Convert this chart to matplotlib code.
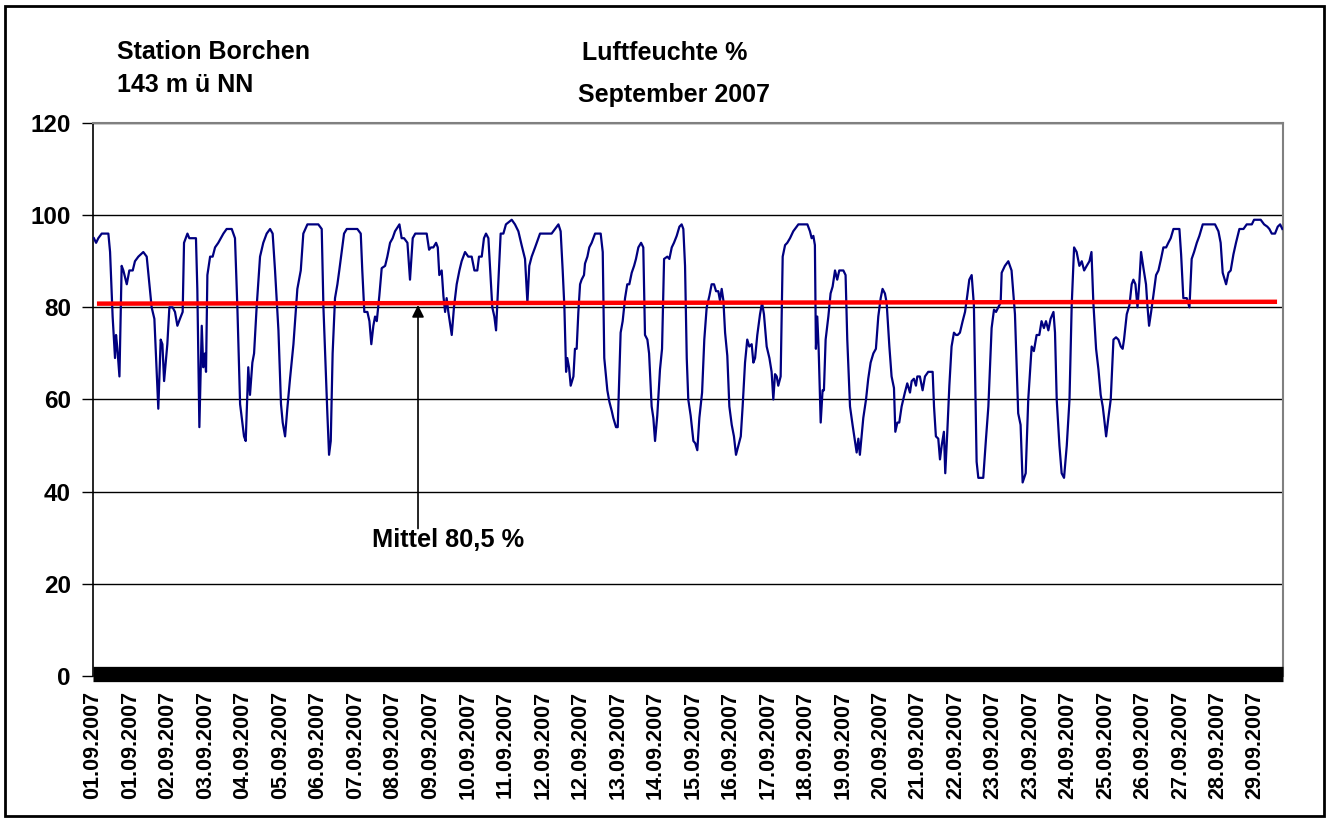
import matplotlib.pyplot as plt
from matplotlib.patches import Rectangle

plt.rcParams['font.family'] = ['Liberation Sans', 'DejaVu Sans']
plt.rcParams['font.weight'] = 'bold'

# Luftfeuchte in %; Zeit in Stunden ab 01.09.2007 00:00
stunden = [
    0.5, 1.8, 3.1, 5.1, 9.0, 10.0, 11.0, 11.5, 12.9, 13.5, 14.3, 15.5, 16.8, 17.8, 19.8, 21.3,
    23.3, 24.6, 26.6, 29.5, 31.5, 33.1, 34.4, 36.0, 38.3, 39.7, 40.7, 41.7, 43.6, 44.8, 46.7, 48.1,
    49.5, 51.0, 52.6, 53.4, 55.4, 56.5, 60.4, 61.2, 62.4, 63.8, 64.7, 65.7, 66.3, 67.1, 68.7, 70.2,
    71.6, 73.5, 76.5, 78.4, 81.4, 83.3, 84.7, 86.3, 87.6, 88.6, 89.6, 91.1, 92.1, 93.5, 94.5, 96.0,
    98.0, 99.9, 101.9, 103.9, 105.4, 106.8, 108.8, 110.3, 111.3, 112.7, 114.0, 115.6, 117.6, 119.9,
    121.9, 123.4, 125.8, 132.2, 134.2, 135.2, 137.5, 138.5, 139.5, 140.6,
    142.0, 143.4, 144.5, 145.9, 147.3, 148.9, 155.1, 157.1, 158.0, 159.2, 161.0, 162.2, 163.3, 164.5,
    165.5, 166.5, 168.0, 169.4, 171.4, 172.7, 174.3, 175.8, 177.2, 179.8, 181.1, 182.5, 184.5, 186.0,
    187.6, 189.1, 195.8, 197.2, 198.3, 199.7, 201.3, 202.3, 203.2, 204.6, 205.6, 206.6, 207.5, 208.5,
    210.5, 211.8, 213.4, 215.0, 216.3, 218.3, 220.2, 222.2, 223.8, 225.5, 226.5, 228.1, 229.4, 230.6,
    232.0, 233.4, 234.3, 235.5, 236.5, 237.9, 239.2, 240.8, 242.3, 245.7, 247.6, 249.6, 251.5, 253.5,
    254.9, 256.0, 257.4, 259.4, 261.3, 262.3, 269.1, 271.1, 273.1, 274.4, 275.6, 276.6, 277.6, 278.3,
    279.3, 280.3,
    281.9, 282.8, 283.8, 284.8, 285.8, 286.7, 288.1, 288.7, 290.1, 291.2, 292.6, 294.6, 297.9, 299.1,
    300.0, 301.8, 303.0, 304.4, 305.3, 306.9, 307.9, 308.9, 309.6, 310.8, 312.2, 313.5, 314.7, 316.1,
    317.5, 318.6, 320.0, 321.6, 322.9, 323.9, 325.3, 326.3, 327.8, 328.8, 329.8, 331.1, 332.7, 333.9,
    335.1, 337.0, 338.2, 339.6, 340.9, 342.5, 344.1, 345.4, 346.4, 347.4, 348.4, 349.3, 350.7, 352.3,
    353.4, 354.6, 355.8, 357.4, 358.7, 360.1, 361.7, 363.0, 364.4, 365.6, 366.9, 367.9, 368.9, 369.9,
    370.9, 372.2, 373.4, 374.8, 376.1, 377.3, 378.7, 380.1, 381.2, 382.6, 383.9, 385.1, 386.5, 387.5,
    388.5, 389.8, 391.4, 392.6, 393.7, 395.3, 396.9, 398.2, 399.2, 400.2, 401.2, 402.1, 403.5, 404.7,
    406.1, 407.4, 409.0, 410.9, 413.9, 419.2, 420.7,
    421.7, 422.7, 423.6, 424.2, 425.0, 425.8, 427.0, 428.1, 428.9, 429.9, 431.5, 432.8, 434.0, 435.4,
    436.7, 437.9, 440.3, 441.6, 442.6, 444.2, 445.7, 447.1, 448.1, 449.1, 450.0, 451.0, 452.0, 453.6,
    454.9, 456.3, 457.9, 459.4, 460.8, 462.2, 463.3, 464.7, 465.7, 467.3, 468.6, 470.0, 470.8, 472.0,
    473.1, 474.5, 476.4, 477.8, 479.4, 480.4, 481.7, 482.9, 483.7, 485.2, 486.8, 488.2, 490.1, 492.7,
    493.5, 494.6, 496.0, 497.0, 498.0, 499.3, 500.1, 501.3, 502.5, 503.8, 505.2, 506.4, 507.4, 508.7,
    510.3, 511.7, 513.0, 514.2, 515.6, 516.9, 518.5, 519.5, 522.4, 524.0, 525.4, 527.3, 528.7, 529.9,
    531.2, 532.6, 533.2, 535.1, 537.1, 539.0, 541.0, 542.9, 544.3, 545.5, 547.3, 548.8, 550.8, 552.1,
    553.7, 555.3, 556.6, 558.0, 559.2, 560.6, 561.9, 563.6,
    564.5, 565.5, 567.1, 568.4, 569.8, 571.4, 573.0, 574.3, 575.7, 577.2, 578.8, 580.2, 581.6, 583.1,
    584.7, 585.9, 587.0, 588.6, 590.0, 591.3, 592.5, 593.3, 594.5, 595.8, 597.2, 598.8, 600.3, 601.7,
    603.1, 604.2, 605.0, 606.6, 608.2, 609.5, 610.5, 611.7, 612.9, 614.0, 615.0, 616.4, 617.9, 618.7,
    619.7, 620.9, 622.2, 623.8, 625.2, 626.7, 628.1, 629.7, 631.0, 632.4, 634.0, 637.5, 638.5, 639.8,
    641.8, 643.4, 644.7, 646.1, 647.7, 649.2, 651.2, 658.4, 660.4, 661.7, 662.9, 664.9, 666.3, 667.6,
    669.2, 670.7, 672.7, 675.1, 677.0, 680.0, 681.3, 685.2, 687.2, 689.1, 690.3, 691.7, 693.6, 695.2,
    696.6, 697.9,
]
feuchte = [
    95, 94, 95, 96, 96, 92, 83, 78, 69, 74, 71, 65, 89, 88, 85, 88,
    88, 90, 91, 92, 91, 85, 80, 77.5, 58, 73, 72, 64, 72, 80, 80, 79,
    76, 77.5, 79, 94, 96, 95, 95, 84, 54, 76, 67, 70, 66, 87, 91, 91,
    93, 94, 96, 97, 97, 95, 80, 59, 55, 52, 51, 67, 61, 68, 70, 80,
    91, 94, 96, 97, 96, 88, 75, 59, 55, 52, 58, 64.5, 72, 84,
    88, 96, 98, 98, 97, 80, 57, 48, 51, 70,
    82, 85, 88, 92, 96, 97, 97, 96, 88, 79, 79, 77, 72, 76,
    78, 77, 82.5, 88.5, 89, 91, 94, 95, 96.5, 98, 95, 95, 94, 86,
    95, 96, 96, 92.5, 93, 93, 94, 93, 87, 88, 82.5, 79, 82, 79,
    74, 80, 85, 88, 90, 92, 91, 91, 88, 88, 91, 91, 95, 96,
    95, 86, 80, 78, 75, 86, 96, 96, 98, 99, 98, 96.5, 93.5, 90.5,
    81, 89, 91, 93, 95, 96, 96, 97, 98, 96.5, 88, 80, 66, 69,
    67, 63,
    65, 71, 71, 79, 85, 86, 87, 89.5, 91, 93, 94, 96, 96, 92,
    69, 62, 59.5, 57.5, 56, 54, 54, 66, 74.5, 77, 82, 85, 85, 87.5,
    89, 90.5, 93, 94, 93, 74, 73, 70, 58.5, 56, 51, 56.5, 66.5, 71,
    90.5, 91, 90.5, 93, 94, 95.5, 97.5, 98, 97, 89, 69, 60, 56.5, 51,
    50.5, 49, 56, 61.5, 73, 80, 82.5, 85, 85, 83.5, 83.5, 81.5, 84, 81.5,
    74.5, 69.5, 58.5, 54.5, 52, 48, 50, 52, 58.5, 68, 73, 71.5, 72, 68,
    69, 74, 78.5, 81, 78.5, 71.5, 69, 66, 60, 65.5, 65, 63, 65, 91,
    93.5, 94, 95, 96.5, 98, 98, 96.5,
    95, 95.5, 93.5, 71, 78, 71, 55, 62, 62, 73, 78, 83, 84.5, 88,
    86, 88, 88, 87, 73, 58.5, 54.5, 51, 48.5, 51.5, 48, 52, 56, 60,
    64.5, 68, 70, 71, 78, 82, 84, 83, 81, 71.5, 65, 62.5, 53, 55,
    55, 58.5, 61.5, 63.5, 61.5, 64, 64.5, 63, 65, 65, 62, 65, 66, 66,
    58.5, 52, 51.5, 47, 50, 53, 44, 53, 63, 71.5, 74.5, 74, 74, 74.5,
    77, 79, 82.5, 86, 87, 80.5, 46.5, 43, 43, 51.5, 58.5, 75.5, 79.5, 79,
    80, 81, 87.5, 89, 90, 88, 78.5, 57, 54.5, 42, 44, 60, 71.5, 70.5,
    74, 74, 77, 75.5, 77, 75, 77.5, 79,
    74.5, 60, 50, 44, 43, 50, 60, 80.5, 93, 92, 89, 90, 88, 89,
    90, 92, 81, 71, 66.5, 61, 58.5, 56, 52, 56, 60, 73, 73.5, 73,
    71.5, 71, 73, 78.5, 80.5, 85, 86, 85, 80, 85.5, 92, 88.5, 85, 80.5,
    76, 79, 82.5, 87, 88, 90.5, 93, 93, 94, 95, 97, 97, 91.5, 82,
    82, 80, 90.5, 92, 94, 95.5, 98, 98, 96.5, 94, 87.5, 85, 87.5, 88,
    91.5, 94, 97, 97, 98, 98, 99, 99, 98, 97.5, 97, 96, 96, 97.5,
    98, 97,
]

datum_labels = ['01.09.2007', '01.09.2007', '02.09.2007', '03.09.2007', '04.09.2007',
                '05.09.2007', '06.09.2007', '07.09.2007', '08.09.2007', '09.09.2007',
                '10.09.2007', '11.09.2007', '12.09.2007', '12.09.2007', '13.09.2007',
                '14.09.2007', '15.09.2007', '16.09.2007', '17.09.2007', '18.09.2007',
                '19.09.2007', '20.09.2007', '21.09.2007', '22.09.2007', '23.09.2007',
                '23.09.2007', '24.09.2007', '25.09.2007', '26.09.2007', '27.09.2007',
                '28.09.2007', '29.09.2007']
label_abstand = 22.0   # Stunden zwischen zwei Beschriftungen
ende = 698.3           # Stunden bis Achsenende

# Mittelwert-Linie
mittel_x = [2.3, 694.8]
mittel_y = [80.8, 81.2]
mittel_wert = 80.5
mittel_text = 'Mittel 80,5 %'

fig = plt.figure(figsize=(13.29, 8.21), dpi=100)
ax = fig.add_axes([0.070, 0.1766, 0.8954, 0.6736])

ax.plot(stunden, feuchte, color='#000080', lw=1.6, zorder=4)
ax.plot(mittel_x, mittel_y, color='#ff0000', lw=3.2, solid_capstyle='butt', zorder=5)

# dichte Kategorie-Striche -> schwarzer Balken auf der Nulllinie
ax.axhline(0.35, color='black', lw=11, solid_capstyle='butt', clip_on=False, zorder=3)

ax.set_xlim(0, ende)
ax.set_ylim(0, 120)
ax.set_yticks(range(0, 121, 20))
ax.yaxis.grid(True, color='black', lw=1.0)
ax.set_axisbelow(True)

ax.set_xticks([i * label_abstand for i in range(len(datum_labels))])
ax.set_xticklabels(datum_labels, rotation=90, fontsize=15.5, fontweight='bold')
ax.tick_params(axis='x', length=0, pad=11)
ax.tick_params(axis='y', length=8, width=1, pad=8, labelsize=17.5, color='black')
for lab in ax.get_yticklabels():
    lab.set_fontweight('bold')

ax.spines['left'].set_color('black')
ax.spines['left'].set_linewidth(1.2)
ax.spines['top'].set_color('#808080')
ax.spines['top'].set_linewidth(1.5)
ax.spines['right'].set_color('#808080')
ax.spines['right'].set_linewidth(1.5)
ax.spines['bottom'].set_visible(False)

# Pfeil und Text fuer den Mittelwert
pfeil_x = 190.7
ax.annotate('', xy=(pfeil_x, mittel_wert), xytext=(pfeil_x, 32),
            arrowprops=dict(arrowstyle='-|>', color='black', lw=1.2,
                            mutation_scale=18, shrinkA=0, shrinkB=0), zorder=6)
ax.text(163.7, 29.5, mittel_text, fontsize=18.3, fontweight='bold', ha='left', va='center')

fig.text(0.088, 0.928, 'Station Borchen', fontsize=18, fontweight='bold', va='baseline')
fig.text(0.088, 0.888, '143 m ü NN', fontsize=18, fontweight='bold', va='baseline')
fig.text(0.500, 0.927, 'Luftfeuchte %', fontsize=18, fontweight='bold', ha='center', va='baseline')
fig.text(0.507, 0.876, 'September 2007', fontsize=18, fontweight='bold', ha='center', va='baseline')

# Rahmen um das ganze Bild
fig.patches.append(Rectangle((0.0038, 0.0061), 0.9928, 0.9872, transform=fig.transFigure,
                             fill=False, lw=2, ec='black'))

fig.savefig('out.png', dpi=100)
